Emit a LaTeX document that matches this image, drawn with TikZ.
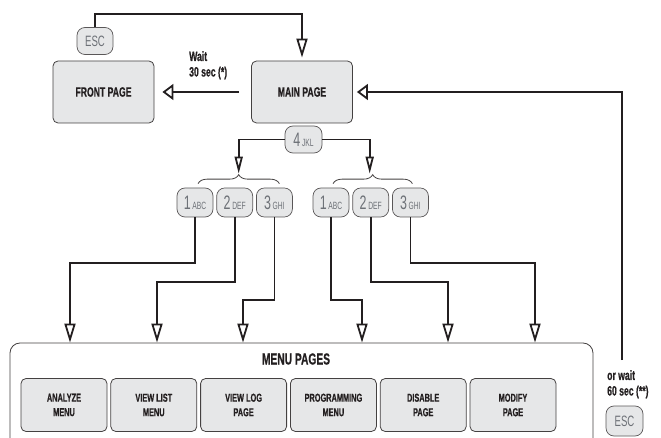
\documentclass[tikz,border=0pt]{standalone}
\usepackage{fontspec}
\setmainfont{Liberation Sans}[FakeStretch=0.64, BoldFeatures={FakeBold=0.6}]
\usepackage{xcolor}
\usetikzlibrary{arrows.meta, positioning, decorations.pathreplacing}
\definecolor{boxfill}{HTML}{E6E7E8}
\definecolor{keytext}{HTML}{6D7177}
\definecolor{linecol}{HTML}{231F20}
\newcommand{\keycap}[2]{{\fontsize{19.5}{19.5}\selectfont #1}\,{\fontsize{10.5}{10.5}\selectfont #2}}

\begin{document}
\begin{tikzpicture}[
    x=1pt, y=-1pt,
    node distance = 9.4pt and 3pt,
    page/.style = {rectangle, draw=linecol!85, line width=0.8pt, fill=boxfill, rounded corners=5pt, align=center, text=linecol, font=\fontsize{13.5}{15}\selectfont\bfseries, minimum width=101pt, minimum height=62pt},
    menubox/.style = {page, font=\fontsize{11.5}{14.5}\selectfont\bfseries, minimum width=86pt, minimum height=53pt},
    key/.style = {rectangle, draw=linecol!75, line width=0.7pt, fill=boxfill, rounded corners=8pt, inner sep=0pt, minimum width=36pt, minimum height=29pt, text=keytext},
    esckey/.style = {key, minimum width=36pt, minimum height=27pt, font=\fontsize{15}{15}\selectfont},
    note/.style = {align=left, inner sep=0pt, text=linecol, font=\fontsize{13.5}{15.5}\selectfont\bfseries},
    wire/.style = {draw=linecol, line width=1.8pt},
    tipv/.style = {wire, -{Triangle[open, length=19pt, width=11pt]}},
    tipn/.style = {wire, -{Triangle[open, length=17pt, width=8pt]}},
    tiph/.style = {wire, -{Triangle[open, length=11pt, width=16pt]}},
    curly/.style = {draw=linecol!85, line width=0.8pt, decorate, decoration={brace, amplitude=9pt}}
]
    \useasboundingbox (0,0) rectangle (661,438);

    \node [page] (front) at (103.5,92) {FRONT PAGE};
    \node [page] (main) at (302,92) {MAIN PAGE};
    \node [esckey] (esctop) at (95,41) {ESC};
    \node [note, anchor=north west] (waitA) at (189,51) {Wait\\30 sec (*)};
    \node [key, minimum width=37pt, minimum height=27pt] (jkl) at (303.5,139.5) {\keycap{4}{JKL}};

    \node [key] (la) at (195,202.5) {\keycap{1}{ABC}};
    \node [key, right=of la] (lb) {\keycap{2}{DEF}};
    \node [key, right=of lb] (lc) {\keycap{3}{GHI}};
    \node [key] (ra) at (331,202.5) {\keycap{1}{ABC}};
    \node [key, right=of ra] (rb) {\keycap{2}{DEF}};
    \node [key, right=of rb] (rc) {\keycap{3}{GHI}};

    \node [rectangle, draw=linecol!85, line width=0.8pt, rounded corners=10pt, minimum width=583pt, minimum height=130pt] (menus) at (301.5,408) {};
    \node [font=\fontsize{16}{16}\selectfont\bfseries, text=linecol] (menulabel) at (296,359) {MENU PAGES};
    \node [menubox] (analyze) at (64,405) {ANALYZE\\MENU};
    \node [menubox, right=of analyze] (viewlist) {VIEW LIST\\MENU};
    \node [menubox, right=of viewlist] (viewlog) {VIEW LOG\\PAGE};
    \node [menubox, right=of viewlog] (prog) {PROGRAMMING\\MENU};
    \node [menubox, right=of prog] (disable) {DISABLE\\PAGE};
    \node [menubox, right=of disable] (modify) {MODIFY\\PAGE};

    \node [note, anchor=north west] (waitB) at (607,370) {or wait\\60 sec (**)};
    \node [esckey, minimum width=37pt, minimum height=30pt] (escbot) at (624.5,421) {ESC};
    \coordinate (waitend) at (622,360);

    \path [tipv, shorten >=3pt] (esctop.north) -- (esctop.north |- 0,14) -| (main.north);
    \path [tiph, shorten <=12pt, shorten >=8pt] (main.west) -- (front.east);
    \path [tiph, shorten >=4pt] (waitend) |- (main.east);

    \path [curly] ([xshift=3pt, yshift=4pt]la.north) -- ([xshift=5pt, yshift=4pt]lc.north);
    \path [curly] ([xshift=2pt, yshift=4pt]ra.north) -- ([xshift=2pt, yshift=4pt]rc.north);
    \path [tipn] (jkl.west) -| ([xshift=4pt, yshift=14pt]lb.north);
    \path [tipn] (jkl.east) -| ([xshift=-1pt, yshift=14pt]rb.north);

    \foreach \src/\bend/\tx in {la/263/70, lb/282/157, lc/300/243, ra/300/362, rb/282/448, rc/263/535}
        \path [tipv] (\src.south) |- (\tx,\bend) -- (menus.north -| \tx,0);
\end{tikzpicture}
\end{document}
